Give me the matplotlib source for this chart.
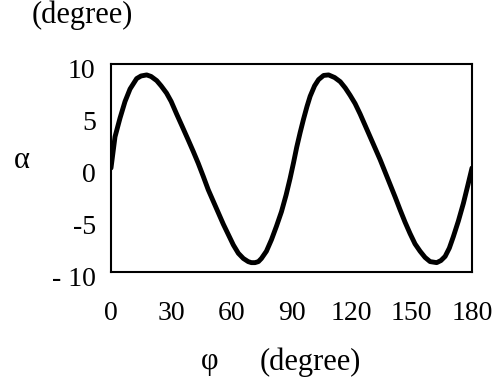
import matplotlib
matplotlib.use("Agg")
import matplotlib.pyplot as plt
from matplotlib.transforms import ScaledTranslation

# phi (degree) vs alpha (degree)
phi = [0, 2, 4.5, 7, 9.5, 12.8, 15, 17.8, 20, 22.8, 25, 27.7, 30, 32.7, 35.5, 38.5,
       41, 43.5, 46, 48.5, 51, 53.5, 56, 58.5, 61, 63.5, 66, 68.4, 70, 71.8, 73.5, 75,
       77.5, 80, 82.5, 85, 87.3, 89.3, 91, 92.6, 94.3, 96, 97.7, 99.3, 101.5, 103.5,
       106, 108.5, 111.5, 114.3, 116.8, 119.2, 121.7, 124.2, 126.7, 129.2, 131.7, 134.2,
       136.7, 139.2, 141.7, 144.1, 146.6, 149.1, 151.6, 154.1, 156.6, 159.1, 162.4,
       164.5, 166.6, 168.7, 170.7, 173.2, 175.7, 178, 180]
alpha = [0, 3.0, 4.8, 6.4, 7.6, 8.6, 8.85, 8.95, 8.8, 8.4, 7.9, 7.2, 6.4, 5.2, 4.0, 2.7,
         1.6, 0.45, -0.8, -2.1, -3.2, -4.3, -5.4, -6.4, -7.4, -8.2, -8.7, -9.0, -9.1,
         -9.1, -9.0, -8.7, -8.0, -6.9, -5.6, -4.2, -2.6, -1.0, 0.5, 2.0, 3.4, 4.7, 5.9,
         6.9, 7.9, 8.5, 8.9, 8.95, 8.7, 8.3, 7.7, 7.0, 6.2, 5.2, 4.1, 3.0, 1.9, 0.8,
         -0.4, -1.6, -2.8, -4.0, -5.2, -6.3, -7.3, -8.0, -8.6, -9.0, -9.1, -8.9, -8.5,
         -7.7, -6.6, -5.1, -3.4, -1.6, 0]

x_ticks = [0, 30, 60, 90, 120, 150, 180]
y_ticks = [-10, -5, 0, 5, 10]
y_labels = ['- 10', '-5', '0', '5', '10']

plt.rcParams['font.family'] = ['Liberation Serif', 'DejaVu Serif']

fig = plt.figure(figsize=(4.95, 3.82), dpi=100)
ax = fig.add_axes([111 / 495, 1 - 272 / 382, 361 / 495, 208 / 382])

ax.plot(phi, alpha, color='black', lw=3.5, solid_capstyle='round', solid_joinstyle='round')
ax.set_xlim(0, 180)
ax.set_ylim(-10, 10)
ax.set_xticks(x_ticks)
ax.set_yticks(y_ticks)
ax.set_yticklabels(y_labels)
ax.tick_params(length=0, labelsize=20)
ax.tick_params(axis='y', pad=11)
ax.tick_params(axis='x', pad=21)
for s in ax.spines.values():
    s.set_linewidth(1.5)

# y labels sit a little below their ticks in the original
shift = ScaledTranslation(0, -4 / 100, fig.dpi_scale_trans)
for lab in ax.get_yticklabels():
    lab.set_transform(lab.get_transform() + shift)

fig.text(32 / 495, 1 - 15 / 382, '(degree)', fontsize=22, va='center', ha='left')
fig.text(22 / 495, 1 - 160 / 382, 'α', fontsize=22, va='center', ha='center')
fig.text(210 / 495, 1 - 362 / 382, 'φ', fontsize=22, va='center', ha='center')
fig.text(310 / 495, 1 - 362 / 382, '(degree)', fontsize=22, va='center', ha='center')

fig.savefig('out.png', dpi=100)
